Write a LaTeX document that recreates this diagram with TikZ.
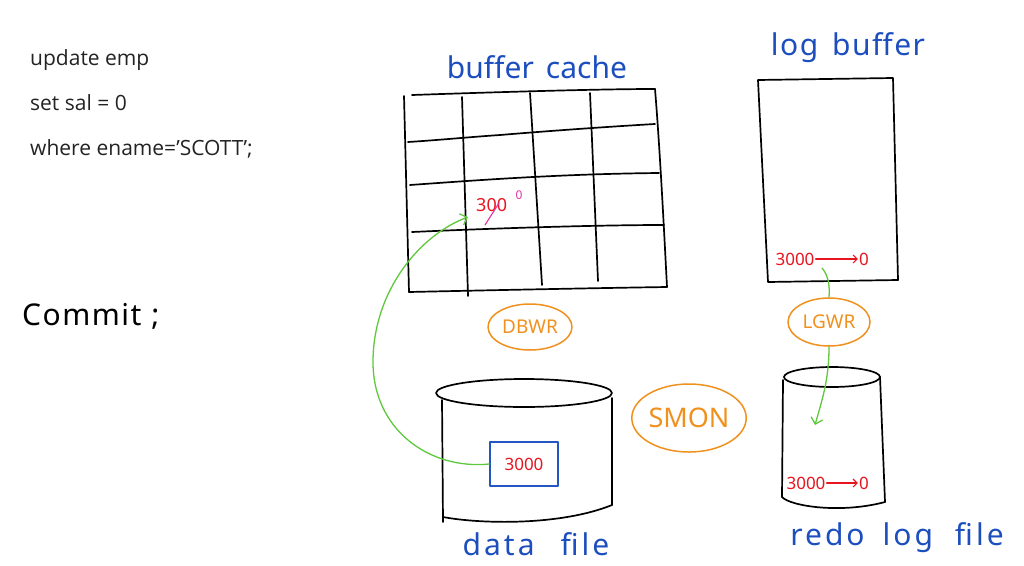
\documentclass[tikz,border=0pt]{standalone}
\usepackage{fontspec}
\setmainfont{Open Sans}
\newfontfamily\hand{Noto Sans}
\newfontfamily\handwide[LetterSpace=10]{Noto Sans}
\newfontfamily\handmid[LetterSpace=5]{Noto Sans}
\usetikzlibrary{arrows.meta,shapes.geometric}
\definecolor{inkblue}{RGB}{28,78,190}
\definecolor{penorange}{RGB}{240,145,30}
\definecolor{penred}{RGB}{232,20,30}
\definecolor{pengreen}{RGB}{95,200,60}
\definecolor{penpink}{RGB}{225,50,160}
\definecolor{boxblue}{RGB}{35,85,195}
\definecolor{typed}{RGB}{35,35,35}
\begin{document}
\begin{tikzpicture}[x=1pt,y=-1pt, line cap=round, line join=round,
  ink/.style={draw=black, line width=1.7pt},
  lbl/.style={font=\hand\fontsize{30}{30}\selectfont, text=inkblue, inner sep=0pt},
  proc/.style={ellipse, draw=penorange, line width=1.5pt, text=penorange,
     font=\hand\fontsize{19}{19}\selectfont, inner sep=0pt},
  sql/.style={font=\fontsize{21}{24}\selectfont, text=typed, anchor=base west, inner sep=0pt},
  val/.style={text=penred, font=\hand\fontsize{17}{17}\selectfont, inner sep=1pt},
  flow/.style={draw=pengreen, line width=1.3pt},
  redarrow/.style={draw=penred, line width=1.2pt, -{Straight Barb[length=4pt]}}]
\useasboundingbox (0,0) rectangle (1024,565);

% SQL text
\node[sql] (l1) at (30,65) {update emp};
\node[sql] (l2) at (30,110) {set sal = 0};
\node[sql] (l3) at (30,155) {where ename='SCOTT';};
\node[font=\handmid\fontsize{30}{30}\selectfont, text=black, anchor=base west, inner sep=0pt] (commit) at (22,325) {Commit\,\,;};

% buffer cache grid
\node[lbl] (bclbl) at (537,67) {buffer\hspace{12pt}cache};
\draw[ink] (404,96) -- (409,292);
\draw[ink] (412,95) .. controls (500,92) and (600,89) .. (655,89);
\draw[ink] (655,89) .. controls (660,150) and (664,230) .. (667,287);
\draw[ink] (409,292) .. controls (500,290) and (600,288) .. (667,287);
\draw[ink] (408,142) .. controls (440,140) and (470,137) .. (500,135) .. controls (560,130) and (620,126) .. (655,124);
\draw[ink] (410,185) .. controls (480,180) and (560,174) .. (659,173);
\draw[ink] (412,232) .. controls (500,228) and (600,225) .. (664,225);
\draw[ink] (462,97) -- (468,296);
\draw[ink] (530,93) -- (542,285);
\draw[ink] (590,93) -- (598,281);
\node[val, anchor=west, font=\hand\fontsize{18}{18}\selectfont] (old) at (475,205) {300};
\node[text=penpink, font=\hand\fontsize{12}{12}\selectfont, inner sep=0pt] (new) at (519,195) {0};
\draw[draw=penpink, line width=1.1pt] (485,225) -- (499,203);
\coordinate (cell) at (468,217);

% log buffer
\node[lbl, font=\handmid\fontsize{30}{30}\selectfont] (lblbl) at (848,48) {log\hspace{14pt}buffer};
\draw[ink] (758,80) -- (893,78) -- (898,280) -- (768,282) -- cycle;
\node[val] (lb3000) at (795,259) {3000};
\node[val] (lb0) at (864,259) {0};
\draw[redarrow] (lb3000.east) -- (lb0.west);
\coordinate (lbsrc) at (822,268);

% processes
\node[proc, minimum width=84, minimum height=46] (dbwr) at (530,327) {DBWR};
\node[proc, minimum width=82, minimum height=48] (lgwr) at (829,322) {LGWR};
\node[proc, minimum width=104, minimum height=68, font=\hand\fontsize{27}{27}\selectfont] (smon) at (689,418) {SMON};

% data file cylinder
\draw[ink] (524,393) ellipse [x radius=88, y radius=14];
\draw[ink] (442,400) -- (443,522);
\draw[ink] (612,398) -- (612,505);
\draw[ink] (443,517) .. controls (480,524) and (560,526) .. (612,505);
\node[draw=boxblue, line width=1.4pt, minimum width=68, minimum height=44, val] (blk) at (524,464) {3000};
\node[lbl, font=\handwide\fontsize{30}{30}\selectfont] (dflbl) at (536,544) {data\hspace{26pt}file};

% redo log file cylinder
\draw[ink] (832,377) ellipse [x radius=48, y radius=10];
\draw[ink] (783,380) -- (782,497);
\draw[ink] (880,377) -- (885,502);
\draw[ink] (782,497) .. controls (790,506) and (840,514) .. (885,502);
\node[val] (rd3000) at (806,483) {3000};
\node[val] (rd0) at (864,483) {0};
\draw[redarrow] (rd3000.east) -- (rd0.west);
\node[lbl, font=\handwide\fontsize{30}{30}\selectfont] (rdlbl) at (897,538) {redo\hspace{18pt}log\hspace{22pt}file};

% green flows
\draw[flow, -{Straight Barb[length=6pt]}] (blk.west) .. controls (430,470) and (372,430) .. (373,360) .. controls (374,290) and (420,235) .. (cell);
\draw[flow] (lbsrc) .. controls (828,275) and (830,285) .. (lgwr.north);
\draw[flow, -{Straight Barb[length=6pt]}] (lgwr.south) .. controls (829,380) and (822,400) .. (815,425);
\end{tikzpicture}
\end{document}
